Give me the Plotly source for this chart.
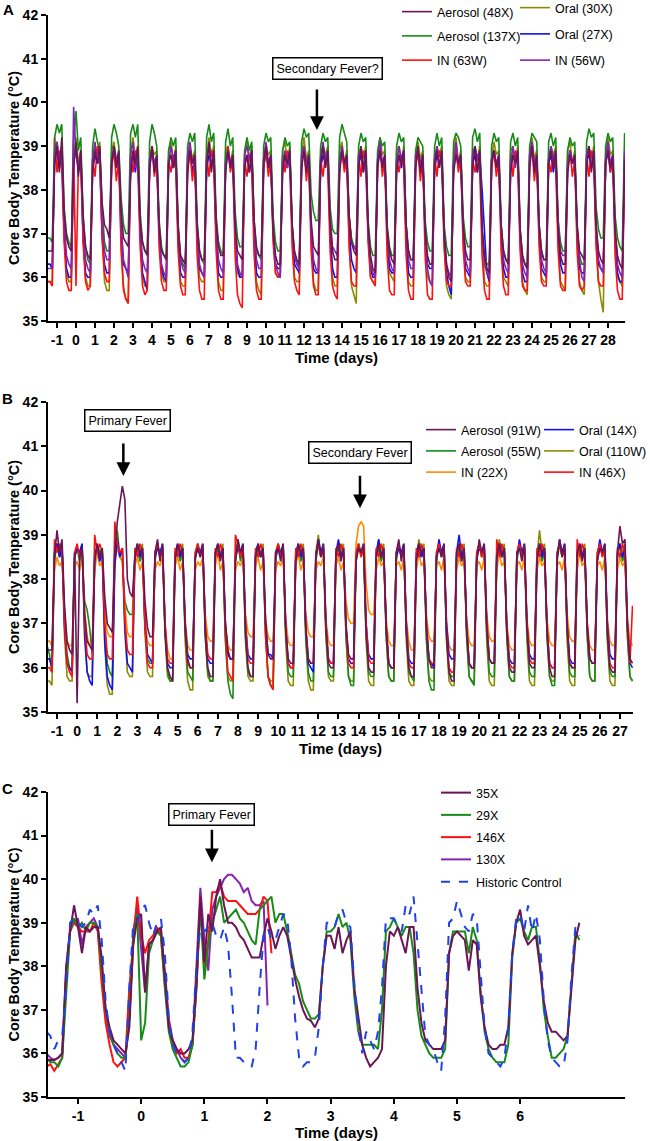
import numpy as np
import plotly.graph_objects as go

FONT = "Liberation Sans, Arial, Helvetica, sans-serif"

# ======================= DATA =======================
# Panel A: 3-hourly samples, first sample at day -1.5, step 0.125 day.
# After 3 lead-in values, each line = one day d (times d-0.125 ... d+0.75).
A_T0, A_DT = -1.5, 0.125
a_ticks = list(range(-1, 29))

a_aerosol_48x = [
    36.6, 36.6, 36.6,
    38.6, 39.0, 38.4, 39.2, 37.5, 36.9, 36.7, 36.6,
    38.5, 39.1, 38.3, 38.9, 37.4, 36.7, 36.5, 36.4,
    38.4, 38.9, 38.6, 39.0, 37.7, 37.2, 37.1, 36.9,
    38.6, 39.0, 38.5, 38.9, 37.5, 36.9, 36.8, 36.7,
    38.3, 38.9, 38.6, 39.0, 37.3, 36.8, 36.6, 36.5,
    38.5, 39.0, 38.4, 38.8, 37.2, 36.6, 36.5, 36.4,
    38.6, 38.8, 38.5, 38.9, 37.1, 36.5, 36.4, 36.3,
    38.4, 38.9, 38.6, 38.8, 37.2, 36.6, 36.4, 36.4,
    38.5, 39.1, 38.4, 38.9, 37.3, 36.7, 36.5, 36.5,
    38.4, 38.9, 38.5, 38.8, 37.2, 36.6, 36.5, 36.4,
    38.5, 38.8, 38.4, 38.9, 37.3, 36.7, 36.5, 36.5,
    38.6, 39.0, 38.5, 38.8, 37.1, 36.5, 36.3, 36.3,
    38.4, 38.8, 38.6, 38.9, 37.2, 36.6, 36.4, 36.3,
    38.5, 38.9, 38.4, 38.8, 37.3, 36.7, 36.6, 36.5,
    38.6, 39.0, 38.5, 38.9, 37.2, 36.6, 36.4, 36.4,
    38.4, 38.9, 38.6, 38.8, 37.4, 36.8, 36.6, 36.5,
    38.5, 39.0, 38.4, 38.9, 37.2, 36.5, 36.2, 36.1,
    38.6, 38.9, 38.5, 38.8, 37.1, 36.6, 36.4, 36.3,
    38.4, 38.8, 38.6, 38.9, 37.2, 36.6, 36.4, 36.4,
    38.5, 39.0, 38.4, 38.8, 37.1, 36.5, 36.3, 36.3,
    38.6, 38.9, 38.5, 38.9, 37.0, 36.3, 36.0, 35.9,
    38.4, 38.8, 38.6, 38.8, 37.2, 36.6, 36.4, 36.4,
    38.5, 39.0, 38.4, 38.9, 37.1, 36.5, 36.2, 36.1,
    38.6, 38.9, 38.5, 38.8, 37.2, 36.6, 36.4, 36.3,
    38.4, 38.8, 38.6, 38.9, 37.1, 36.5, 36.3, 36.2,
    38.5, 39.0, 38.4, 38.8, 37.2, 36.6, 36.4, 36.4,
    38.6, 38.9, 38.5, 38.9, 37.1, 36.5, 36.3, 36.3,
    38.4, 38.8, 38.6, 38.8, 37.2, 36.6, 36.5, 36.4,
    38.5, 39.0, 38.4, 38.9, 37.2, 36.6, 36.4, 36.3,
    38.6, 38.9, 38.5, 38.8, 37.1, 36.5, 36.3, 36.2,
    38.7]

a_aerosol_137x = [
    36.9, 36.9, 36.8,
    39.2, 39.5, 39.3, 39.5, 37.6, 37.0, 36.8, 36.7,
    39.1, 39.8, 38.9, 39.2, 37.4, 36.7, 36.4, 36.3,
    39.0, 39.4, 39.1, 38.9, 37.6, 36.8, 36.6, 36.6,
    39.2, 39.5, 39.3, 39.0, 37.8, 37.2, 37.0, 37.0,
    39.3, 39.5, 39.2, 39.5, 37.5, 36.8, 36.6, 36.6,
    39.1, 39.5, 39.3, 39.0, 37.3, 36.7, 36.5, 36.5,
    38.9, 39.2, 39.0, 39.2, 37.2, 36.5, 36.3, 36.2,
    39.0, 39.3, 39.1, 39.3, 37.3, 36.6, 36.4, 36.3,
    39.2, 39.5, 39.1, 39.3, 37.4, 36.8, 36.6, 36.5,
    39.1, 39.4, 39.0, 39.2, 37.5, 36.9, 36.7, 36.7,
    38.9, 39.2, 38.9, 39.1, 37.3, 36.6, 36.5, 36.4,
    39.0, 39.3, 39.1, 39.2, 37.4, 36.8, 36.6, 36.6,
    38.9, 39.2, 39.0, 39.1, 37.2, 36.5, 36.3, 36.3,
    39.1, 39.4, 39.2, 39.3, 37.9, 37.5, 37.3, 37.3,
    39.0, 39.3, 39.1, 39.2, 37.6, 37.1, 37.0, 37.0,
    39.2, 39.5, 39.3, 39.1, 37.4, 36.9, 36.7, 36.7,
    39.0, 39.3, 39.1, 39.2, 37.3, 36.7, 36.5, 36.5,
    38.9, 39.2, 39.0, 39.1, 37.2, 36.7, 36.5, 36.5,
    39.0, 39.3, 39.1, 39.2, 37.2, 36.6, 36.4, 36.4,
    38.9, 39.2, 39.1, 39.0, 37.3, 36.8, 36.6, 36.6,
    39.0, 39.3, 39.0, 39.2, 37.2, 36.7, 36.5, 36.5,
    39.1, 39.3, 39.2, 39.0, 37.4, 36.9, 36.7, 36.7,
    39.2, 39.4, 39.1, 39.3, 37.1, 36.5, 36.3, 36.3,
    39.0, 39.3, 39.1, 39.2, 37.2, 36.6, 36.4, 36.4,
    39.1, 39.3, 39.0, 39.2, 37.1, 36.5, 36.3, 36.3,
    39.0, 39.3, 39.2, 39.1, 37.2, 36.6, 36.4, 36.4,
    39.1, 39.3, 39.0, 39.2, 37.3, 36.8, 36.6, 36.6,
    38.9, 39.2, 39.0, 39.1, 37.1, 36.5, 36.3, 36.3,
    39.1, 39.4, 39.2, 39.3, 37.6, 37.1, 36.9, 36.9,
    39.0, 39.3, 39.1, 39.2, 37.4, 36.9, 36.7, 36.6,
    39.3]

a_in_63w = [
    35.9, 35.9, 35.8,
    39.2, 38.4, 38.9, 38.6, 36.8, 35.9, 35.7, 35.7,
    38.9, 35.8, 38.6, 38.7, 36.8, 35.9, 35.7, 35.8,
    38.7, 38.3, 39.0, 38.6, 36.9, 36.1, 35.9, 35.9,
    38.5, 38.9, 38.2, 38.7, 36.6, 35.7, 35.5, 35.4,
    38.8, 38.4, 38.9, 38.6, 36.7, 35.8, 35.6, 35.7,
    38.6, 39.0, 38.3, 38.7, 36.7, 35.9, 35.7, 35.7,
    38.7, 38.4, 38.8, 38.5, 36.6, 35.8, 35.6, 35.6,
    38.5, 38.9, 38.2, 38.7, 36.5, 35.7, 35.5, 35.5,
    38.8, 38.3, 38.9, 38.6, 36.6, 35.7, 35.5, 35.5,
    38.6, 39.0, 38.4, 38.7, 36.5, 35.6, 35.4, 35.3,
    38.7, 38.3, 38.8, 38.5, 36.5, 35.7, 35.5, 35.5,
    38.5, 38.9, 38.3, 38.7, 36.8, 36.1, 36.0, 36.1,
    38.8, 38.4, 38.9, 38.6, 36.7, 35.9, 35.7, 35.6,
    38.6, 39.0, 38.2, 38.7, 36.6, 35.8, 35.6, 35.6,
    38.7, 38.3, 38.8, 38.5, 36.6, 35.8, 35.6, 35.5,
    38.5, 38.9, 38.4, 38.7, 36.7, 35.9, 35.8, 35.8,
    38.8, 38.3, 38.9, 38.6, 36.8, 36.0, 35.9, 35.8,
    38.6, 39.0, 38.3, 38.7, 36.5, 35.7, 35.6, 35.6,
    38.7, 38.4, 38.8, 38.5, 36.5, 35.7, 35.5, 35.5,
    38.5, 38.9, 38.2, 38.7, 36.5, 35.6, 35.5, 35.5,
    38.8, 38.3, 38.9, 38.6, 36.7, 35.9, 35.8, 35.8,
    38.6, 39.0, 38.4, 38.7, 36.7, 35.9, 35.8, 35.8,
    38.7, 38.4, 38.8, 38.5, 36.5, 35.7, 35.5, 35.5,
    38.5, 38.9, 38.3, 38.7, 36.6, 35.8, 35.6, 35.6,
    38.8, 38.3, 38.9, 38.6, 36.6, 35.8, 35.7, 35.7,
    38.6, 39.0, 38.2, 38.7, 36.7, 35.9, 35.8, 35.8,
    38.7, 38.4, 38.8, 38.5, 36.6, 35.8, 35.7, 35.7,
    38.5, 38.9, 38.3, 38.7, 36.6, 35.8, 35.7, 35.8,
    38.8, 38.3, 38.9, 38.6, 36.7, 35.9, 35.8, 35.8,
    38.6, 39.0, 38.4, 38.7, 36.5, 35.7, 35.5, 35.5,
    38.6]

a_oral_30x = [
    35.9, 35.9, 35.9,
    38.9, 39.1, 38.7, 39.0, 37.0, 36.1, 35.9, 35.9,
    38.8, 39.2, 38.6, 38.9, 36.9, 36.0, 35.8, 35.8,
    38.7, 39.0, 38.8, 39.1, 36.9, 35.9, 35.7, 35.7,
    38.9, 39.1, 38.6, 38.9, 36.8, 35.8, 35.5, 35.5,
    38.8, 39.2, 38.7, 39.0, 37.0, 36.0, 35.8, 35.8,
    38.7, 39.0, 38.8, 38.9, 37.0, 36.1, 35.9, 35.9,
    38.9, 39.1, 38.6, 39.0, 36.9, 35.9, 35.8, 35.8,
    38.8, 39.0, 38.7, 38.9, 37.0, 36.0, 35.9, 35.9,
    38.7, 39.2, 38.8, 39.0, 36.9, 35.9, 35.7, 35.7,
    38.9, 39.0, 38.6, 38.9, 37.1, 36.1, 36.0, 36.0,
    38.8, 39.1, 38.7, 39.0, 36.9, 35.9, 35.7, 35.6,
    38.7, 39.0, 38.8, 38.9, 37.0, 36.1, 36.0, 36.0,
    38.9, 39.1, 38.6, 39.0, 37.0, 36.0, 35.9, 35.9,
    38.8, 39.2, 38.7, 38.9, 37.0, 35.9, 35.7, 35.7,
    38.7, 39.0, 38.8, 39.0, 37.0, 36.0, 35.8, 35.8,
    38.9, 39.1, 38.6, 38.9, 36.8, 35.8, 35.6, 35.4,
    38.8, 39.0, 38.7, 39.0, 37.0, 36.0, 35.9, 35.9,
    38.7, 39.2, 38.8, 38.9, 37.0, 36.1, 36.0, 35.9,
    38.9, 39.0, 38.6, 39.0, 36.9, 35.9, 35.8, 35.8,
    38.8, 39.1, 38.7, 38.9, 37.0, 36.0, 35.9, 35.9,
    38.7, 39.0, 38.8, 39.0, 36.8, 35.8, 35.6, 35.5,
    38.9, 39.2, 38.6, 38.9, 37.0, 36.0, 35.9, 35.9,
    38.8, 39.0, 38.7, 39.0, 36.9, 35.9, 35.8, 35.8,
    38.7, 39.1, 38.8, 38.9, 37.0, 36.0, 35.9, 35.8,
    38.9, 39.0, 38.6, 39.0, 36.9, 35.9, 35.7, 35.6,
    38.8, 39.2, 38.7, 38.9, 37.0, 36.0, 35.9, 35.9,
    38.7, 39.0, 38.8, 39.0, 36.9, 35.9, 35.8, 35.7,
    38.9, 39.1, 38.6, 38.9, 36.9, 35.9, 35.7, 35.6,
    38.8, 39.0, 38.7, 39.0, 36.8, 35.9, 35.5, 35.2,
    38.7, 39.2, 38.8, 38.9, 37.0, 36.0, 35.9, 35.8,
    38.8]

a_oral_27x = [
    36.3, 36.3, 36.2,
    38.7, 38.9, 38.5, 38.8, 37.0, 36.2, 36.0, 36.0,
    38.6, 39.0, 38.4, 38.7, 36.9, 36.1, 36.0, 36.0,
    38.5, 38.8, 38.6, 38.7, 37.0, 36.3, 36.1, 36.1,
    38.7, 38.9, 38.5, 38.8, 37.1, 36.3, 36.2, 36.1,
    38.6, 38.8, 38.4, 38.9, 37.0, 36.1, 35.9, 35.7,
    38.5, 38.9, 38.6, 38.7, 37.0, 36.2, 36.0, 35.9,
    38.7, 38.8, 38.5, 38.8, 36.9, 36.1, 36.0, 36.0,
    38.6, 38.9, 38.4, 38.7, 37.0, 36.2, 36.1, 36.0,
    38.5, 38.8, 38.6, 38.8, 36.9, 36.1, 36.0, 36.0,
    38.7, 38.9, 38.5, 38.7, 37.0, 36.2, 36.0, 36.0,
    38.6, 38.8, 38.4, 38.8, 36.9, 36.1, 36.0, 36.0,
    38.5, 38.9, 38.6, 38.7, 37.0, 36.3, 36.2, 36.2,
    38.7, 38.8, 38.5, 38.8, 37.1, 36.3, 36.2, 36.1,
    38.6, 38.9, 38.4, 38.7, 37.0, 36.2, 36.1, 36.1,
    38.5, 38.8, 38.6, 38.8, 37.0, 36.2, 36.0, 36.0,
    38.7, 38.9, 38.5, 38.7, 37.1, 36.4, 36.2, 36.1,
    38.6, 38.8, 38.4, 38.8, 37.0, 36.2, 36.0, 36.0,
    38.5, 38.9, 38.6, 38.7, 37.0, 36.2, 36.1, 36.1,
    38.7, 38.8, 38.5, 38.8, 36.9, 36.1, 36.0, 36.0,
    38.6, 38.9, 38.4, 38.7, 37.1, 36.3, 36.2, 36.2,
    38.5, 38.8, 38.6, 38.8, 37.0, 36.1, 35.8, 35.6,
    38.7, 38.9, 38.5, 38.7, 37.0, 36.2, 36.1, 36.0,
    38.6, 38.8, 38.4, 38.8, 38.0, 37.0, 36.1, 35.9,
    38.7, 38.9, 38.5, 38.7, 37.0, 36.2, 36.0, 36.0,
    38.5, 38.8, 38.6, 38.8, 36.9, 36.1, 35.9, 35.9,
    38.7, 38.9, 38.5, 38.7, 37.0, 36.2, 36.1, 36.0,
    38.6, 38.8, 38.4, 38.8, 37.0, 36.3, 36.1, 36.1,
    38.5, 38.9, 38.6, 38.7, 37.0, 36.2, 36.1, 36.1,
    38.7, 38.8, 38.5, 38.8, 37.0, 36.3, 36.2, 36.1,
    38.6, 38.9, 38.4, 38.7, 36.9, 36.1, 35.9, 35.9,
    38.5]

a_in_56w = [
    36.2, 36.2, 36.2,
    38.8, 39.1, 38.6, 39.0, 37.3, 36.5, 36.3, 36.2,
    39.9, 38.8, 38.5, 38.9, 37.2, 36.4, 36.2, 36.1,
    38.7, 39.1, 38.6, 38.9, 37.3, 36.6, 36.4, 36.4,
    38.6, 39.0, 38.7, 38.8, 37.2, 36.4, 36.2, 36.0,
    38.8, 39.1, 38.5, 38.9, 37.2, 36.4, 36.2, 36.1,
    38.7, 38.9, 38.6, 38.8, 37.1, 36.3, 36.1, 36.0,
    38.6, 39.0, 38.7, 38.9, 37.2, 36.4, 36.2, 36.1,
    38.8, 39.1, 38.6, 38.8, 37.1, 36.3, 36.1, 36.0,
    38.7, 39.0, 38.5, 38.9, 37.2, 36.4, 36.2, 36.1,
    38.6, 38.9, 38.6, 38.8, 37.1, 36.3, 36.1, 36.0,
    38.8, 39.0, 38.7, 38.9, 37.2, 36.4, 36.2, 36.2,
    38.7, 39.1, 38.6, 38.8, 37.1, 36.3, 36.1, 36.0,
    38.6, 38.9, 38.5, 38.9, 37.2, 36.5, 36.3, 36.2,
    38.8, 39.0, 38.6, 38.8, 37.1, 36.4, 36.2, 36.1,
    38.7, 39.1, 38.7, 38.9, 37.4, 36.7, 36.6, 36.5,
    38.6, 39.0, 38.6, 38.8, 37.4, 36.8, 36.7, 36.6,
    38.8, 38.9, 38.5, 38.9, 37.1, 36.3, 36.1, 36.0,
    38.7, 39.1, 38.6, 38.8, 37.1, 36.4, 36.2, 36.1,
    38.6, 39.0, 38.7, 38.9, 37.2, 36.4, 36.2, 36.2,
    38.8, 38.9, 38.6, 38.8, 37.0, 36.2, 35.9, 35.8,
    38.7, 39.0, 38.5, 38.9, 37.1, 36.3, 36.1, 36.0,
    38.6, 39.1, 38.6, 38.8, 37.2, 36.4, 36.2, 36.1,
    38.8, 39.0, 38.7, 38.9, 37.1, 36.3, 36.1, 36.0,
    38.7, 38.9, 38.6, 38.8, 37.2, 36.4, 36.2, 36.1,
    38.6, 39.0, 38.5, 38.9, 37.1, 36.3, 36.1, 36.0,
    38.8, 39.1, 38.6, 38.8, 37.2, 36.4, 36.2, 36.1,
    38.7, 39.0, 38.7, 38.9, 37.3, 36.6, 36.5, 36.5,
    38.6, 38.9, 38.6, 38.8, 37.2, 36.4, 36.0, 35.9,
    38.8, 39.0, 38.5, 38.9, 37.2, 36.4, 36.2, 36.1,
    38.7, 39.1, 38.6, 38.8, 37.1, 36.3, 36.1, 36.0,
    38.9]

# Panel B: same sampling as panel A (t0 = -1.5 d, step 0.125 d); last day is partial.
B_T0, B_DT = -1.5, 0.125
b_ticks = list(range(-1, 28))

b_aerosol_91w = [
    36.4, 36.4, 36.4,
    38.5, 39.1, 38.6, 38.9, 37.4, 36.6, 36.4, 36.3,
    38.6, 35.2, 38.5, 38.7, 37.2, 36.6, 36.5, 36.4,
    38.4, 38.8, 38.5, 38.7, 37.6, 37.0, 36.9, 36.8,
    38.6, 39.3, 39.7, 40.1, 39.8, 38.0, 37.7, 37.6,
    38.5, 38.8, 38.6, 38.7, 37.5, 36.9, 36.7, 36.7,
    38.6, 38.9, 38.4, 38.8, 36.8, 36.0, 35.8, 35.7,
    38.4, 38.8, 38.6, 38.7, 36.9, 36.2, 36.0, 36.0,
    38.5, 38.7, 38.5, 38.8, 36.8, 36.0, 35.8, 35.8,
    38.6, 38.8, 38.4, 38.7, 37.0, 36.4, 36.2, 36.2,
    38.4, 38.9, 38.6, 38.8, 36.8, 36.0, 35.8, 35.8,
    38.5, 38.8, 38.5, 38.7, 37.0, 36.3, 36.2, 36.2,
    38.6, 38.7, 38.4, 38.8, 36.9, 36.2, 36.1, 36.1,
    38.4, 38.8, 38.6, 38.7, 36.9, 36.2, 36.1, 36.1,
    38.5, 38.9, 38.5, 38.8, 36.9, 36.1, 36.0, 36.0,
    38.6, 38.8, 38.4, 38.7, 37.0, 36.3, 36.2, 36.2,
    38.4, 38.7, 38.6, 38.8, 36.8, 36.0, 35.9, 35.9,
    38.5, 38.8, 38.5, 38.7, 36.9, 36.1, 36.0, 36.0,
    38.6, 38.9, 38.4, 38.8, 36.8, 36.0, 35.8, 35.8,
    38.4, 38.8, 38.6, 38.7, 36.9, 36.2, 36.0, 36.0,
    38.5, 38.7, 38.5, 38.8, 36.7, 35.9, 35.7, 35.7,
    38.6, 38.8, 38.4, 38.7, 36.9, 36.1, 36.0, 36.0,
    38.4, 38.9, 38.6, 38.8, 36.9, 36.2, 36.1, 36.1,
    38.5, 38.8, 38.5, 38.7, 36.8, 36.0, 35.9, 35.9,
    38.6, 38.7, 38.4, 38.8, 36.9, 36.1, 36.0, 36.0,
    38.4, 38.8, 38.6, 38.7, 36.8, 36.0, 35.8, 35.8,
    38.5, 38.9, 38.5, 38.8, 36.9, 36.1, 36.0, 36.0,
    38.6, 38.8, 38.4, 38.7, 36.9, 36.2, 36.1, 36.1,
    38.4, 38.7, 38.6, 38.8, 36.8, 36.0, 35.9, 35.9,
    38.6, 39.2, 38.8, 38.9, 37.0, 36.2, 36.1]

b_aerosol_55w = [
    36.5, 36.3, 35.9,
    38.4, 38.8, 38.5, 38.7, 37.2, 36.3, 36.0, 35.9,
    38.5, 38.7, 38.4, 38.6, 37.5, 37.3, 36.9, 36.3,
    38.4, 38.8, 38.6, 38.7, 37.0, 36.1, 35.9, 35.8,
    38.6, 39.1, 38.5, 38.4, 37.5, 37.3, 37.2, 37.2,
    38.5, 38.7, 38.4, 38.6, 37.0, 36.2, 36.1, 36.1,
    38.4, 38.8, 38.5, 38.7, 36.8, 35.9, 35.7, 35.7,
    38.5, 38.7, 38.4, 38.6, 36.8, 35.9, 35.8, 35.7,
    38.4, 38.8, 38.6, 38.7, 36.7, 35.9, 35.7, 35.7,
    38.5, 38.7, 38.5, 38.6, 36.6, 35.7, 35.4, 35.3,
    38.4, 38.8, 38.4, 38.7, 36.7, 35.9, 35.8, 35.8,
    38.5, 38.7, 38.5, 38.6, 36.8, 35.8, 35.6, 35.6,
    38.4, 38.8, 38.6, 38.7, 36.8, 35.9, 35.8, 35.8,
    38.5, 38.7, 38.4, 38.6, 36.7, 35.9, 35.7, 35.7,
    38.4, 38.8, 38.5, 38.7, 36.8, 35.9, 35.8, 35.8,
    38.5, 38.7, 38.5, 38.6, 36.7, 35.8, 35.6, 35.6,
    38.4, 38.8, 38.6, 38.7, 36.8, 35.9, 35.8, 35.8,
    38.5, 38.7, 38.4, 38.6, 36.7, 35.8, 35.7, 35.7,
    38.4, 38.8, 38.5, 38.7, 36.8, 35.9, 35.8, 35.7,
    38.5, 38.7, 38.5, 38.6, 36.6, 35.7, 35.5, 35.5,
    38.4, 38.8, 38.6, 38.7, 36.8, 35.9, 35.8, 35.8,
    38.5, 38.7, 38.4, 38.6, 36.7, 35.8, 35.7, 35.6,
    38.4, 38.8, 38.5, 38.7, 36.8, 35.9, 35.8, 35.8,
    38.5, 38.7, 38.5, 38.6, 36.7, 35.8, 35.7, 35.7,
    38.4, 38.8, 38.6, 38.7, 36.8, 35.9, 35.8, 35.8,
    38.5, 38.7, 38.4, 38.6, 36.7, 35.8, 35.6, 35.6,
    38.4, 38.8, 38.5, 38.7, 36.8, 35.9, 35.8, 35.8,
    38.5, 38.7, 38.5, 38.6, 36.7, 35.8, 35.7, 35.7,
    38.4, 38.8, 38.6, 38.7, 36.7, 35.9, 35.8, 35.8,
    38.5, 38.8, 38.4, 38.6, 36.7, 35.8, 35.7]

b_in_22x = [
    36.6, 36.6, 36.5,
    38.2, 38.5, 38.3, 38.4, 37.2, 36.6, 36.5, 36.5,
    38.3, 38.4, 38.2, 38.5, 37.3, 36.7, 36.5, 36.5,
    38.2, 38.6, 38.3, 38.4, 37.3, 36.8, 36.7, 36.7,
    38.4, 38.7, 38.5, 38.4, 37.4, 36.8, 36.7, 36.7,
    38.3, 38.5, 38.2, 38.4, 37.1, 36.6, 36.5, 36.5,
    38.2, 38.4, 38.3, 38.5, 37.0, 36.4, 36.2, 36.2,
    38.3, 38.5, 38.2, 38.4, 37.1, 36.5, 36.4, 36.4,
    38.2, 38.4, 38.3, 38.5, 37.2, 36.7, 36.6, 36.6,
    38.3, 38.6, 38.2, 38.4, 37.0, 36.5, 36.4, 36.4,
    38.2, 38.4, 38.3, 38.5, 37.2, 36.8, 36.7, 36.7,
    38.3, 38.5, 38.2, 38.4, 37.1, 36.7, 36.6, 36.6,
    38.2, 38.4, 38.3, 38.5, 37.1, 36.6, 36.5, 36.5,
    38.3, 38.6, 38.2, 38.4, 37.2, 36.8, 36.7, 36.7,
    38.2, 38.4, 38.3, 38.5, 37.1, 36.6, 36.5, 36.5,
    38.3, 38.5, 38.2, 38.4, 37.5, 37.1, 37.0, 37.0,
    38.8, 39.2, 39.3, 39.2, 37.9, 37.3, 37.2, 37.2,
    38.2, 38.5, 38.3, 38.4, 37.1, 36.6, 36.5, 36.5,
    38.3, 38.4, 38.2, 38.5, 37.1, 36.6, 36.4, 36.4,
    38.2, 38.6, 38.3, 38.4, 37.2, 36.7, 36.6, 36.6,
    38.3, 38.4, 38.2, 38.5, 37.0, 36.5, 36.4, 36.4,
    38.2, 38.5, 38.3, 38.4, 37.1, 36.6, 36.5, 36.5,
    38.3, 38.4, 38.2, 38.5, 37.2, 36.7, 36.6, 36.6,
    38.2, 38.6, 38.3, 38.4, 37.0, 36.5, 36.4, 36.4,
    38.3, 38.4, 38.2, 38.5, 37.1, 36.6, 36.5, 36.5,
    38.2, 38.5, 38.3, 38.4, 37.1, 36.6, 36.5, 36.5,
    38.3, 38.4, 38.2, 38.5, 37.2, 36.7, 36.6, 36.6,
    38.2, 38.6, 38.3, 38.4, 37.0, 36.5, 36.4, 36.4,
    38.3, 38.4, 38.2, 38.5, 37.1, 36.6, 36.5, 36.5,
    38.2, 38.5, 38.3, 38.4, 37.1, 36.6, 36.5]

b_oral_14x = [
    36.2, 36.2, 36.0,
    38.6, 38.8, 38.5, 38.7, 36.9, 36.1, 36.0, 35.9,
    38.5, 38.7, 38.6, 38.8, 36.7, 35.9, 35.7, 35.6,
    38.6, 38.7, 38.4, 38.6, 36.6, 35.8, 35.6, 35.5,
    38.3, 38.9, 38.5, 38.7, 36.9, 36.1, 36.0, 35.9,
    38.6, 38.8, 38.5, 38.7, 37.0, 36.3, 36.2, 36.1,
    38.5, 38.7, 38.6, 38.8, 36.9, 36.1, 36.0, 36.0,
    38.6, 38.8, 38.5, 38.7, 37.0, 36.3, 36.2, 36.2,
    38.5, 38.7, 38.6, 38.8, 36.9, 36.2, 36.1, 36.1,
    38.6, 38.8, 38.5, 38.7, 37.0, 36.3, 36.2, 36.2,
    38.5, 38.7, 38.6, 38.8, 37.0, 36.3, 36.2, 36.2,
    38.6, 38.8, 38.5, 38.7, 37.0, 36.3, 36.3, 36.2,
    38.5, 38.7, 38.6, 38.8, 36.9, 36.1, 36.0, 36.0,
    38.6, 38.8, 38.5, 38.7, 36.9, 36.1, 36.0, 35.9,
    38.5, 38.9, 38.6, 38.8, 37.0, 36.2, 36.1, 36.1,
    38.6, 38.9, 38.5, 38.7, 36.9, 36.2, 36.1, 36.1,
    38.5, 38.7, 38.6, 38.8, 37.0, 36.3, 36.2, 36.2,
    38.6, 38.9, 38.5, 38.7, 36.9, 36.1, 36.0, 36.0,
    38.5, 38.7, 38.6, 38.8, 37.0, 36.2, 36.1, 36.1,
    38.6, 38.8, 38.5, 38.7, 36.9, 36.2, 36.1, 36.0,
    38.5, 38.9, 38.6, 38.8, 37.0, 36.3, 36.2, 36.2,
    38.6, 39.0, 38.5, 38.7, 36.9, 36.1, 36.0, 36.0,
    38.5, 38.7, 38.6, 38.8, 37.0, 36.2, 36.1, 36.1,
    38.6, 38.8, 38.5, 38.7, 36.9, 36.2, 36.1, 36.1,
    38.5, 38.9, 38.6, 38.8, 37.0, 36.3, 36.2, 36.2,
    38.6, 38.8, 38.5, 38.7, 36.9, 36.1, 36.0, 36.0,
    38.5, 38.9, 38.6, 38.8, 37.0, 36.2, 36.1, 36.1,
    38.6, 38.8, 38.5, 38.7, 36.9, 36.2, 36.1, 36.1,
    38.5, 38.9, 38.6, 38.8, 37.0, 36.3, 36.2, 36.2,
    38.6, 38.8, 38.5, 38.7, 36.9, 36.1, 36.0]

b_oral_110w = [
    35.7, 35.7, 35.6,
    38.6, 38.8, 38.5, 38.7, 36.7, 35.8, 35.7, 35.7,
    38.5, 38.7, 38.6, 38.8, 36.8, 35.9, 35.8, 35.8,
    38.4, 38.7, 38.5, 38.6, 36.5, 35.6, 35.4, 35.4,
    38.6, 38.9, 38.5, 38.7, 36.8, 35.9, 35.8, 35.8,
    38.5, 38.7, 38.6, 38.8, 36.8, 35.9, 35.8, 35.8,
    38.6, 38.8, 38.5, 38.7, 36.7, 35.8, 35.7, 35.7,
    38.5, 38.7, 38.6, 38.8, 36.6, 35.7, 35.5, 35.5,
    38.6, 38.8, 38.5, 38.7, 36.7, 35.8, 35.7, 35.7,
    38.5, 38.7, 38.6, 38.8, 36.7, 35.8, 35.7, 35.7,
    38.6, 38.9, 38.5, 38.7, 36.6, 35.8, 35.7, 35.7,
    38.5, 38.7, 38.6, 38.8, 36.7, 35.8, 35.7, 35.7,
    38.6, 38.8, 38.5, 38.7, 36.6, 35.7, 35.6, 35.6,
    38.5, 38.7, 38.6, 38.8, 36.6, 35.7, 35.5, 35.5,
    38.6, 39.0, 38.5, 38.7, 36.7, 35.8, 35.7, 35.7,
    38.5, 38.7, 38.6, 38.8, 36.7, 35.8, 35.7, 35.7,
    38.6, 38.8, 38.5, 38.7, 36.6, 35.7, 35.6, 35.6,
    38.5, 38.9, 38.6, 38.8, 36.7, 35.8, 35.7, 35.7,
    38.6, 38.8, 38.5, 38.7, 36.6, 35.7, 35.6, 35.6,
    38.5, 38.9, 38.6, 38.8, 36.7, 35.8, 35.7, 35.7,
    38.6, 38.8, 38.5, 38.7, 36.6, 35.7, 35.6, 35.6,
    38.5, 38.7, 38.6, 38.8, 36.7, 35.8, 35.7, 35.7,
    38.6, 38.8, 38.5, 38.7, 36.6, 35.7, 35.6, 35.6,
    38.5, 38.9, 38.6, 38.8, 36.7, 35.8, 35.7, 35.7,
    38.6, 38.8, 38.5, 38.7, 36.6, 35.7, 35.6, 35.6,
    38.5, 39.1, 38.6, 38.8, 36.7, 35.8, 35.7, 35.7,
    38.6, 38.8, 38.5, 38.7, 36.6, 35.7, 35.6, 35.6,
    38.5, 38.7, 38.6, 38.8, 36.7, 35.8, 35.7, 35.7,
    38.6, 38.8, 38.5, 38.7, 36.6, 35.7, 35.6, 35.6,
    38.5, 38.8, 38.6, 38.8, 36.7, 35.8, 35.7]

b_in_46x = [
    36.0, 36.0, 35.9,
    38.9, 38.6, 38.8, 38.7, 37.0, 36.1, 35.9, 35.8,
    38.6, 38.8, 38.5, 38.7, 37.0, 36.3, 36.2, 36.2,
    39.0, 38.6, 38.8, 38.6, 37.0, 36.3, 36.2, 36.2,
    39.3, 38.8, 38.6, 38.7, 37.1, 36.4, 36.3, 36.3,
    38.7, 38.5, 38.8, 38.6, 36.9, 36.1, 36.0, 36.0,
    38.6, 38.8, 38.5, 38.7, 37.0, 36.2, 36.1, 36.1,
    38.7, 38.5, 38.8, 38.6, 36.9, 36.1, 36.0, 36.0,
    38.6, 38.8, 38.5, 38.7, 37.0, 36.3, 36.2, 36.2,
    38.7, 38.5, 38.8, 38.6, 36.8, 35.9, 35.8, 35.7,
    39.0, 38.8, 38.5, 38.7, 37.0, 36.2, 36.1, 36.1,
    38.7, 38.5, 38.8, 38.6, 36.7, 35.8, 35.6, 35.5,
    38.6, 38.8, 38.5, 38.7, 36.9, 36.1, 36.0, 36.0,
    38.7, 38.5, 38.8, 38.6, 36.9, 36.2, 36.1, 36.1,
    38.6, 38.8, 38.5, 38.7, 37.0, 36.2, 36.1, 36.1,
    38.7, 38.5, 38.8, 38.6, 36.9, 36.1, 36.0, 36.0,
    38.6, 38.8, 38.5, 38.7, 37.0, 36.2, 36.1, 36.1,
    38.7, 38.5, 38.8, 38.6, 36.9, 36.1, 36.0, 36.0,
    38.6, 38.8, 38.5, 38.7, 36.9, 36.1, 36.0, 36.0,
    38.7, 38.5, 38.8, 38.6, 37.0, 36.2, 36.1, 36.1,
    38.6, 38.8, 38.5, 38.7, 36.8, 36.0, 35.9, 35.9,
    38.7, 38.5, 38.8, 38.6, 36.9, 36.1, 36.0, 36.0,
    38.6, 38.8, 38.5, 38.7, 37.0, 36.2, 36.1, 36.1,
    38.9, 38.5, 38.8, 38.6, 36.9, 36.1, 36.0, 36.0,
    38.6, 38.8, 38.5, 38.7, 37.0, 36.2, 36.1, 36.1,
    38.7, 38.5, 38.8, 38.6, 36.9, 36.1, 36.0, 36.0,
    38.6, 38.8, 38.5, 38.7, 36.9, 36.1, 36.0, 36.0,
    38.9, 38.5, 38.8, 38.6, 37.0, 36.2, 36.1, 36.1,
    38.6, 38.8, 38.5, 38.7, 36.9, 36.1, 36.0, 36.0,
    38.7, 38.5, 38.8, 38.6, 36.9, 36.1, 37.4]

# Panel C: 1.5-hourly samples, first sample at day -1.5, step 0.0625 day (16 per line).
C_T0, C_DT = -1.5, 0.0625
c_ticks = list(range(-1, 7))

c_35x = [
    35.85, 35.85, 35.85, 35.9, 36.0, 38.0, 38.8, 39.4, 38.9, 38.3, 38.9, 38.8, 38.9, 38.9, 38.2, 37.0,
    36.6, 36.3, 36.2, 36.1, 36.0, 36.6, 38.5, 39.1, 39.2, 37.4, 38.5, 38.6, 38.8, 38.9, 37.8, 36.6,
    36.3, 36.1, 36.0, 36.0, 36.1, 36.3, 37.6, 39.6, 38.1, 39.2, 38.8, 39.6, 40.0, 39.4, 39.0, 39.0,
    38.9, 38.7, 38.6, 38.4, 38.2, 38.2, 38.2, 38.7, 39.1, 38.8, 38.4, 38.7, 38.9, 38.7, 38.2, 37.7,
    37.3, 37.0, 36.8, 36.75, 36.6, 36.8, 38.0, 38.7, 38.7, 38.4, 38.9, 38.3, 38.6, 38.8, 37.5, 36.8,
    36.2, 35.9, 35.7, 35.8, 35.9, 36.1, 38.0, 38.8, 38.7, 38.9, 38.6, 38.3, 38.9, 38.9, 37.5, 36.7,
    36.3, 36.2, 36.1, 36.1, 36.1, 36.3, 38.3, 38.7, 38.8, 38.7, 38.6, 37.9, 38.6, 38.5, 37.3, 36.6,
    36.2, 36.1, 36.1, 36.2, 36.2, 36.6, 38.3, 39.0, 39.3, 38.7, 38.5, 38.6, 38.7, 38.0, 37.2, 36.7,
    36.5, 36.5, 36.4, 36.3, 36.4, 37.5, 38.6, 39.0]

c_29x = [
    35.9, 35.8, 35.8, 35.7, 35.9, 37.5, 38.8, 39.1, 38.9, 39.0, 38.8, 39.0, 39.0, 38.9, 38.0, 37.0,
    36.5, 36.2, 36.0, 35.9, 35.9, 36.8, 38.6, 39.2, 36.3, 36.7, 38.3, 38.6, 38.8, 38.7, 37.5, 36.5,
    36.1, 35.9, 35.7, 35.7, 35.8, 36.2, 37.5, 39.4, 37.7, 38.5, 39.0, 39.3, 39.6, 39.0, 39.1, 39.2,
    39.3, 39.1, 39.0, 38.8, 38.6, 38.5, 39.3, 39.4, 39.5, 39.6, 39.0, 39.2, 39.2, 38.8, 38.3, 37.8,
    37.6, 37.2, 37.0, 36.8, 36.8, 36.9, 38.0, 38.8, 38.8, 38.9, 39.2, 38.9, 39.0, 38.6, 37.3, 36.5,
    36.2, 36.2, 36.2, 36.2, 36.1, 37.0, 38.8, 38.9, 39.1, 38.9, 38.7, 38.9, 38.9, 38.3, 37.0, 36.4,
    36.2, 36.0, 35.9, 35.9, 35.9, 36.1, 38.3, 38.8, 38.8, 38.8, 38.8, 38.3, 38.9, 38.6, 37.4, 36.5,
    36.1, 35.9, 35.8, 35.8, 35.8, 36.2, 38.2, 39.0, 39.1, 38.8, 38.6, 38.9, 38.9, 38.1, 37.0, 36.4,
    35.9, 35.9, 36.0, 36.1, 36.4, 37.6, 38.8, 38.6]

c_146x = [
    35.7, 35.75, 35.6, 35.75, 35.9, 37.8, 38.8, 39.0, 38.9, 38.8, 38.8, 38.8, 39.0, 38.8, 37.6, 36.7,
    36.2, 35.8, 35.7, 35.8, 35.9, 37.5, 38.5, 39.6, 38.7, 38.3, 38.6, 38.7, 38.9, 38.7, 37.6, 36.7,
    36.2, 36.0, 36.1, 35.9, 35.9, 36.2, 37.5, 39.6, 37.9, 38.6, 39.7, 39.7, 39.9, 39.6, 39.5, 39.5,
    39.5, 39.4, 39.3, 39.2, 39.2, 39.2, 39.3, 39.6, 39.5, 38.3]

c_130x = [
    36.0, 35.9, 35.85, 35.9, 36.0, 37.9, 38.9, 39.0, 39.1, 38.5, 38.9, 39.0, 39.1, 38.9, 38.0, 36.9,
    36.4, 36.2, 36.1, 36.0, 35.9, 36.8, 38.8, 39.4, 38.3, 37.4, 38.5, 38.6, 38.8, 38.8, 37.9, 36.8,
    36.3, 36.1, 35.9, 35.8, 35.9, 36.2, 38.0, 39.8, 38.6, 37.9, 39.3, 39.6, 39.8, 40.0, 40.1, 40.1,
    40.0, 39.9, 39.7, 39.8, 39.5, 39.4, 39.4, 39.5, 37.1]

c_historic = [
    36.5, 36.4, 36.1, 36.3, 36.4, 37.5, 39.0, 39.1, 39.0, 38.9, 39.0, 39.3, 39.2, 39.4, 38.6, 37.2,
    36.5, 36.2, 36.0, 35.8, 35.6, 37.5, 39.0, 39.0, 39.3, 39.4, 39.0, 38.7, 39.0, 39.1, 38.3, 36.8,
    36.2, 36.0, 35.9, 35.8, 35.9, 36.5, 38.0, 38.9, 38.8, 38.9, 39.0, 38.7, 38.6, 38.9, 38.5, 37.3,
    35.9, 35.9, 35.8, 35.7, 35.7, 36.1, 37.5, 38.7, 38.9, 38.6, 38.6, 38.9, 39.2, 39.1, 38.2, 36.8,
    35.9, 35.7, 35.8, 35.8, 35.9, 36.6, 38.0, 39.0, 39.0, 38.9, 39.2, 39.3, 39.0, 38.9, 37.6, 36.6,
    36.0, 36.5, 36.3, 36.1, 36.5, 37.5, 39.1, 39.1, 39.1, 38.9, 38.8, 39.4, 39.2, 39.6, 38.5, 37.3,
    36.4, 36.2, 36.1, 35.8, 35.6, 36.8, 39.0, 39.1, 39.5, 39.2, 38.9, 38.8, 39.2, 39.1, 37.8, 36.6,
    36.0, 35.9, 35.8, 35.7, 35.9, 36.6, 38.3, 39.1, 39.2, 38.8, 39.4, 38.8, 39.2, 38.6, 37.2, 36.3,
    35.9, 35.8, 35.7, 35.7, 36.3, 37.8, 38.9, 38.7]

y_ticks = [35, 36, 37, 38, 39, 40, 41, 42]

# ======================= STYLE =======================
C_DPURPLE = "#6A1555"
C_GREEN = "#178A17"
C_RED = "#FF1010"
C_OLIVE = "#8B8B00"
C_BLUE = "#1010F0"
C_PURPLE = "#8624B0"
C_ORANGE = "#FF8A00"
C_HIST = "#2040E8"

W, H = 650, 1141


def fx(xp):
    return xp / W


def fy(yp):
    return 1 - yp / H


fig = go.Figure()


def add(vals, t0, dt, name, color, xa, ya, legend, rank, width=1.6, dash=None):
    t = t0 + dt * np.arange(len(vals))
    fig.add_trace(go.Scatter(
        x=t, y=vals, mode="lines", name=name,
        line=dict(color=color, width=width, dash=dash),
        xaxis=xa, yaxis=ya, legend=legend, legendrank=rank, legendgroup=name,
        hoverinfo="skip"))


# Panel A (drawing order bottom -> top)
add(a_oral_30x, A_T0, A_DT, "Oral (30X)", C_OLIVE, "x", "y", "legend2", 1)
add(a_oral_27x, A_T0, A_DT, "Oral (27X)", C_BLUE, "x", "y", "legend2", 2)
add(a_in_63w, A_T0, A_DT, "IN (63W)", C_RED, "x", "y", "legend", 3)
add(a_aerosol_137x, A_T0, A_DT, "Aerosol (137X)", C_GREEN, "x", "y", "legend", 2)
add(a_in_56w, A_T0, A_DT, "IN (56W)", C_PURPLE, "x", "y", "legend2", 3)
add(a_aerosol_48x, A_T0, A_DT, "Aerosol (48X)", C_DPURPLE, "x", "y", "legend", 1)

# Panel B
add(b_oral_110w, B_T0, B_DT, "Oral (110W)", C_OLIVE, "x2", "y2", "legend4", 2)
add(b_aerosol_55w, B_T0, B_DT, "Aerosol (55W)", C_GREEN, "x2", "y2", "legend3", 2)
add(b_in_22x, B_T0, B_DT, "IN (22X)", C_ORANGE, "x2", "y2", "legend3", 3)
add(b_oral_14x, B_T0, B_DT, "Oral (14X)", C_BLUE, "x2", "y2", "legend4", 1)
add(b_in_46x, B_T0, B_DT, "IN (46X)", C_RED, "x2", "y2", "legend4", 3)
add(b_aerosol_91w, B_T0, B_DT, "Aerosol (91W)", C_DPURPLE, "x2", "y2", "legend3", 1)

# Panel C
add(c_130x, C_T0, C_DT, "130X", C_PURPLE, "x3", "y3", "legend5", 4, width=2)
add(c_146x, C_T0, C_DT, "146X", C_RED, "x3", "y3", "legend5", 3, width=2)
add(c_29x, C_T0, C_DT, "29X", C_GREEN, "x3", "y3", "legend5", 2, width=2)
add(c_35x, C_T0, C_DT, "35X", C_DPURPLE, "x3", "y3", "legend5", 1, width=2)
add(c_historic, C_T0, C_DT, "Historic Control", C_HIST, "x3", "y3", "legend5", 5,
    width=2, dash="dash")

tickfont = dict(family=FONT, size=14, color="black", weight="bold")
titlefont = dict(family=FONT, size=14.5, color="black", weight="bold")
axis_common = dict(showline=True, linewidth=2, linecolor="black", ticks="outside",
                   ticklen=5, tickwidth=2, tickcolor="black", showgrid=False,
                   zeroline=False, tickfont=tickfont, automargin=False, fixedrange=True)


def xaxis(domain, rng, ticks, anchor):
    return dict(axis_common, domain=domain, range=rng, anchor=anchor,
                tickmode="array", tickvals=ticks, ticktext=[str(v) for v in ticks],
                title=dict(text="Time (days)", font=dict(titlefont, size=15), standoff=6))


def yaxis(domain, anchor):
    return dict(axis_common, domain=domain, range=[35, 42], anchor=anchor,
                tickmode="array", tickvals=y_ticks, ticktext=[str(v) for v in y_ticks],
                title=dict(text="Core Body Temperature (°C)", font=titlefont, standoff=0))


legfont = dict(family=FONT, size=12.5, color="black")


def legend(xp, yp, gap):
    return dict(x=fx(xp), y=fy(yp), xanchor="left", yanchor="top", traceorder="grouped",
                tracegroupgap=gap, font=legfont, bgcolor="rgba(0,0,0,0)", borderwidth=0)


box = dict(showarrow=False, font=dict(family=FONT, size=12.5, color="black"),
           bordercolor="black", borderwidth=1.5, borderpad=3, bgcolor="white",
           xref="paper", yref="paper", xanchor="center", yanchor="middle")
arrow = dict(text="", showarrow=True, arrowhead=2, arrowsize=1.1, arrowwidth=2.5,
             arrowcolor="black", ax=0, standoff=0)
letter = dict(showarrow=False, font=dict(family=FONT, size=15, color="black", weight="bold"),
              xref="paper", yref="paper", xanchor="center", yanchor="middle")

fig.update_layout(
    width=W, height=H,
    margin=dict(l=0, r=0, t=0, b=0, pad=0, autoexpand=False),
    paper_bgcolor="white", plot_bgcolor="white",
    font=dict(family=FONT, color="black"),
    xaxis=xaxis([fx(48), fx(625)], [-1.474, 28.895], a_ticks, "y"),
    yaxis=yaxis([fy(321), fy(15)], "x"),
    xaxis2=xaxis([fx(48), fx(633)], [-1.448, 27.65], b_ticks, "y2"),
    yaxis2=yaxis([fy(712), fy(402)], "x2"),
    xaxis3=xaxis([fx(48), fx(625)], [-1.475, 7.66], c_ticks, "y3"),
    yaxis3=yaxis([fy(1097), fy(792)], "x3"),
    legend=legend(397, -3, 5),
    legend2=legend(515, -7, 7),
    legend3=legend(421, 415, 2),
    legend4=legend(539, 415, 2),
    legend5=legend(436, 778, 3),
    annotations=[
        dict(letter, text="A", x=fx(8), y=fy(9)),
        dict(letter, text="B", x=fx(7), y=fy(398)),
        dict(letter, text="C", x=fx(7), y=fy(788)),
        dict(box, text="Secondary Fever?", x=fx(327), y=fy(68)),
        dict(box, text="Primary Fever", x=fx(127), y=fy(420)),
        dict(box, text="Secondary Fever", x=fx(360), y=fy(452)),
        dict(box, text="Primary Fever", x=fx(212), y=fy(814)),
        dict(arrow, x=12.68, y=39.37, xref="x", yref="y", ay=-42),
        dict(arrow, x=2.30, y=40.33, xref="x2", yref="y2", ay=-34),
        dict(arrow, x=14.07, y=39.6, xref="x2", yref="y2", ay=-34),
        dict(arrow, x=1.12, y=40.39, xref="x3", yref="y3", ay=-34),
    ],
)

# remove the default 8px page margin so the figure sits at the window origin
fig.write_html("out.html", config={"displayModeBar": False},
               post_script="document.body.style.margin='0';")
